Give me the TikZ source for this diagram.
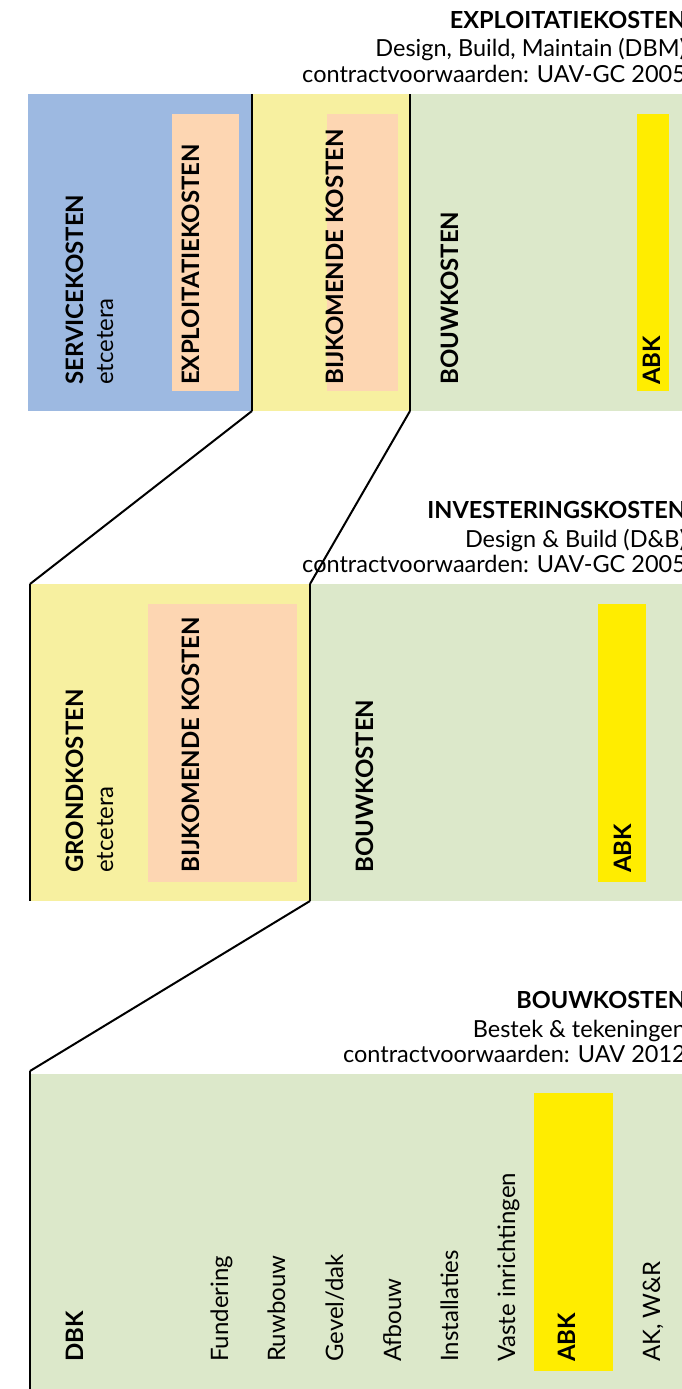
\documentclass[tikz,border=0pt]{standalone}
\usepackage{fontspec}
\setmainfont{Lato}
\definecolor{cblue}{RGB}{157,185,225}
\definecolor{cyel}{RGB}{247,240,160}
\definecolor{cgrn}{RGB}{220,232,202}
\definecolor{cpeach}{RGB}{253,214,178}
\definecolor{cabk}{RGB}{255,237,0}
\tikzset{
  blk/.style={inner sep=0pt, outer sep=0pt, draw=none, anchor=north west},
  sep/.style={line width=2pt, black},
  vlab/.style={rotate=90, anchor=base west, inner sep=0pt, font=\fontsize{24}{24}\selectfont\bfseries},
  vtxt/.style={rotate=90, anchor=base west, inner sep=0pt, font=\fontsize{24}{24}\selectfont},
  ttl/.style={anchor=base east, inner sep=0pt, font=\fontsize{23.5}{23.5}\selectfont\bfseries},
  sub/.style={anchor=base east, inner sep=0pt, font=\fontsize{23.5}{23.5}\selectfont},
}
\begin{document}
\begin{tikzpicture}[x=1pt,y=-1pt]
\useasboundingbox (0,0) rectangle (682,1389);
\clip (0,0) rectangle (682,1389);
% ---------- top section
\node[ttl] (t1) at (686,29) {EXPLOITATIEKOSTEN};
\node[sub] (t1a) at (686,57) {Design, Build, Maintain (DBM)};
\node[sub] (t1b) at (686,82) {contractvoorwaarden: UAV-GC 2005};
\node[blk, fill=cblue, minimum width=224pt, minimum height=317pt] (blue) at (28,94) {};
\node[blk, fill=cyel, minimum width=158pt, minimum height=317pt] (yel1) at (252,94) {};
\node[blk, fill=cgrn, minimum width=280pt, minimum height=317pt] (grn1) at (410,94) {};
\node[blk, fill=cpeach, minimum width=67pt, minimum height=277pt] (pe1) at (172,114) {};
\node[blk, fill=cpeach, minimum width=71pt, minimum height=277pt] (pe2) at (327,114) {};
\node[blk, fill=cabk, minimum width=32pt, minimum height=277pt] (abk1) at (637,114) {};
\draw[sep] (yel1.north west) -- (yel1.south west);
\draw[sep] (yel1.north east) -- (yel1.south east);
\node[vlab] (l1) at (83,385) {SERVICEKOSTEN};
\node[vtxt] (l2) at (113,385) {etcetera};
\node[vlab] (l3) at (199,385) {EXPLOITATIEKOSTEN};
\node[vlab] (l4) at (343,385) {BIJKOMENDE KOSTEN};
\node[vlab] (l5) at (458,385) {BOUWKOSTEN};
\node[vlab] (l6) at (660,385) {ABK};
% ---------- middle section
\node[ttl] (t2) at (686,518) {INVESTERINGSKOSTEN};
\node[sub] (t2a) at (686,547) {Design \& Build (D\&B)};
\node[sub] (t2b) at (686,572) {contractvoorwaarden: UAV-GC 2005};
\node[blk, fill=cyel, minimum width=280pt, minimum height=317pt] (yel2) at (30,584) {};
\node[blk, fill=cgrn, minimum width=380pt, minimum height=317pt] (grn2) at (310,584) {};
\node[blk, fill=cpeach, minimum width=149pt, minimum height=278pt] (pe3) at (148,604) {};
\node[blk, fill=cabk, minimum width=48pt, minimum height=278pt] (abk2) at (598,604) {};
\draw[sep] (yel2.north west) -- (yel2.south west);
\draw[sep] (yel2.north east) -- (yel2.south east);
\node[vlab] (m1) at (83,873) {GRONDKOSTEN};
\node[vtxt] (m2) at (113,873) {etcetera};
\node[vlab] (m3) at (199,873) {BIJKOMENDE KOSTEN};
\node[vlab] (m4) at (373,873) {BOUWKOSTEN};
\node[vlab] (m5) at (631,873) {ABK};
% ---------- bottom section
\node[ttl] (t3) at (686,1008) {BOUWKOSTEN};
\node[sub] (t3a) at (686,1037) {Bestek \& tekeningen};
\node[sub] (t3b) at (686,1062) {contractvoorwaarden: UAV 2012};
\node[blk, fill=cgrn, minimum width=660pt, minimum height=320pt] (grn3) at (30,1074) {};
\node[blk, fill=cabk, minimum width=79pt, minimum height=278pt] (abk3) at (534,1093) {};
\coordinate (c3) at (30,1071);
\coordinate (c3b) at (30,1395);
\draw[sep] (c3) -- (c3b);
\node[vlab] (b1) at (83,1362) {DBK};
\node[vtxt] (b2) at (228,1362) {Fundering};
\node[vtxt] (b3) at (285,1362) {Ruwbouw};
\node[vtxt] (b4) at (343,1362) {Gevel/dak};
\node[vtxt] (b5) at (401,1362) {Afbouw};
\node[vtxt] (b6) at (458,1362) {Installaties};
\node[vtxt] (b7) at (515,1362) {Vaste inrichtingen};
\node[vlab] (b8) at (575,1362) {ABK};
\node[vtxt] (b9) at (660,1362) {AK, W\&R};
% ---------- connectors
\draw[sep] (yel1.south west) -- (yel2.north west);
\draw[sep] (yel1.south east) -- (yel2.north east);
\draw[sep] (yel2.south east) -- (c3);
\end{tikzpicture}
\end{document}
